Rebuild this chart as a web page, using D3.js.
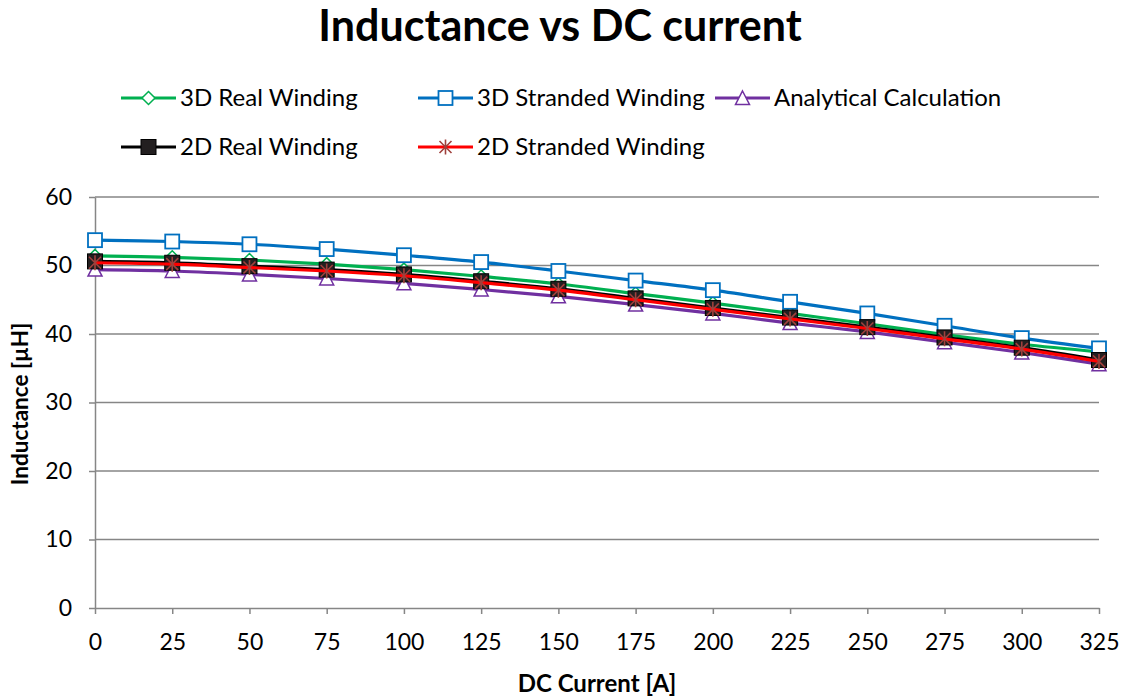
<!DOCTYPE html>
<html>
<head>
<meta charset="utf-8">
<script src="https://cdn.jsdelivr.net/npm/d3@7"></script>
<style>
  html, body { margin: 0; padding: 0; background: #fff; }
  svg { display: block; font-family: Lato, "Open Sans", sans-serif; }
</style>
</head>
<body>
<svg id="chart" width="1125" height="700"></svg>
<script>
// DC current steps [A]
const currents = [0, 25, 50, 75, 100, 125, 150, 175, 200, 225, 250, 275, 300, 325];

// Inductance [µH] for each model
const real3D      = [51.4, 51.2, 50.8, 50.2, 49.4, 48.4, 47.3, 45.9, 44.5, 43.0, 41.5, 39.9, 38.5, 37.4];
const stranded3D  = [53.7, 53.5, 53.1, 52.4, 51.5, 50.5, 49.2, 47.8, 46.4, 44.7, 43.0, 41.2, 39.4, 37.9];
const analytical  = [49.4, 49.2, 48.7, 48.1, 47.4, 46.5, 45.5, 44.3, 43.0, 41.6, 40.3, 38.8, 37.3, 35.6];
const real2D      = [50.6, 50.4, 49.9, 49.4, 48.7, 47.7, 46.6, 45.2, 43.8, 42.4, 41.0, 39.5, 38.0, 36.2];
const stranded2D  = [50.4, 50.2, 49.7, 49.2, 48.5, 47.5, 46.4, 45.0, 43.6, 42.2, 40.8, 39.3, 37.8, 36.0];

const yTicks = [0, 10, 20, 30, 40, 50, 60];

const seriesDefs = [
  { name: "3D Real Winding",        values: real3D,     color: "#00b050", marker: "diamond" },
  { name: "3D Stranded Winding",    values: stranded3D, color: "#0070c0", marker: "square" },
  { name: "Analytical Calculation", values: analytical, color: "#7030a0", marker: "triangle" },
  { name: "2D Real Winding",        values: real2D,     color: "#000000", marker: "filledSquare" },
  { name: "2D Stranded Winding",    values: stranded2D, color: "#ff0000", marker: "star" }
];

const svg = d3.select("#chart");
const plot = { left: 95, right: 1099, top: 197, bottom: 608 };

const x = d3.scaleLinear().domain([0, 325]).range([plot.left, plot.right]);
const y = d3.scaleLinear().domain([0, 60]).range([plot.bottom, plot.top]);

const gridColor = "#868686";

// Title
svg.append("text")
  .attr("x", 560).attr("y", 41)
  .attr("text-anchor", "middle")
  .style("font-weight", "bold").style("font-size", "43px")
  .text("Inductance vs DC current");

// Horizontal gridlines
svg.append("g")
  .selectAll("line")
  .data(yTicks.filter(d => d > 0))
  .join("line")
  .attr("x1", plot.left).attr("x2", plot.right)
  .attr("y1", d => y(d)).attr("y2", d => y(d))
  .attr("stroke", gridColor).attr("stroke-width", 1.5);

// Y axis
const yAxis = svg.append("g")
  .attr("transform", `translate(${plot.left},0)`)
  .call(d3.axisLeft(y).tickValues(yTicks).tickSize(6).tickPadding(17).tickSizeOuter(0));
yAxis.select(".domain").attr("stroke", gridColor).attr("stroke-width", 1.5);
yAxis.selectAll(".tick line").attr("stroke", gridColor).attr("stroke-width", 1.5);
yAxis.selectAll(".tick text")
  .style("font-family", "Lato, sans-serif").style("font-size", "23px").attr("fill", "#000");

// X axis
const xAxis = svg.append("g")
  .attr("transform", `translate(0,${plot.bottom})`)
  .call(d3.axisBottom(x).tickValues(currents).tickSize(6).tickPadding(20).tickSizeOuter(0));
xAxis.select(".domain").attr("stroke", gridColor).attr("stroke-width", 1.5);
xAxis.selectAll(".tick line").attr("stroke", gridColor).attr("stroke-width", 1.5);
xAxis.selectAll(".tick text")
  .style("font-family", "Lato, sans-serif").style("font-size", "23px").attr("fill", "#000");

// Axis titles
svg.append("text")
  .attr("transform", "translate(28,404) rotate(-90)")
  .attr("text-anchor", "middle")
  .style("font-weight", "bold").style("font-size", "22.5px")
  .text("Inductance [µH]");

svg.append("text")
  .attr("x", 597).attr("y", 692)
  .attr("text-anchor", "middle")
  .style("font-weight", "bold").style("font-size", "24px")
  .text("DC Current [A]");

// Marker drawing
function drawMarker(g, type, color) {
  switch (type) {
    case "diamond":
      g.append("path").attr("d", "M0,-6.5L6.5,0L0,6.5L-6.5,0Z")
        .attr("fill", "#fff").attr("stroke", color).attr("stroke-width", 1.5);
      break;
    case "square":
      g.append("rect").attr("x", -7).attr("y", -7).attr("width", 14).attr("height", 14)
        .attr("fill", "#fff").attr("stroke", color).attr("stroke-width", 1.8);
      break;
    case "triangle":
      g.append("path").attr("d", "M0,-7L7,6.5L-7,6.5Z")
        .attr("fill", "#fff").attr("stroke", color).attr("stroke-width", 1.5);
      break;
    case "filledSquare":
      g.append("rect").attr("x", -7.5).attr("y", -7.5).attr("width", 15).attr("height", 15)
        .attr("fill", "#231f20").attr("stroke", "#000").attr("stroke-width", 1);
      break;
    case "star":
      g.append("path")
        .attr("d", "M-6,-6L6,6M-6,6L6,-6M0,-7.5L0,7.5")
        .attr("fill", "none").attr("stroke", "#a0403c").attr("stroke-width", 1.6);
      break;
  }
}

const line = d3.line()
  .x((d, i) => x(currents[i]))
  .y(d => y(d))
  .curve(d3.curveCatmullRom.alpha(0.5));

// Series: line then markers, in legend order
seriesDefs.forEach(s => {
  const g = svg.append("g");
  g.append("path")
    .attr("d", line(s.values))
    .attr("fill", "none")
    .attr("stroke", s.color)
    .attr("stroke-width", 3.2)
    .attr("stroke-linejoin", "round");
  g.selectAll("g.m")
    .data(s.values)
    .join("g")
    .attr("class", "m")
    .attr("transform", (d, i) => `translate(${x(currents[i])},${y(d)})`)
    .each(function () { drawMarker(d3.select(this), s.marker, s.color); });
});

// Legend
const legendPos = [
  { lx: 121, ty: 98 }, { lx: 418, ty: 98 }, { lx: 715, ty: 98 },
  { lx: 121, ty: 147 }, { lx: 418, ty: 147 }
];
seriesDefs.forEach((s, i) => {
  const p = legendPos[i];
  const g = svg.append("g").attr("transform", `translate(${p.lx},${p.ty})`);
  g.append("line").attr("x1", 0).attr("x2", 55).attr("y1", 0).attr("y2", 0)
    .attr("stroke", s.color).attr("stroke-width", 3.2);
  drawMarker(g.append("g").attr("transform", "translate(27.5,0)"), s.marker, s.color);
  g.append("text").attr("x", 59).attr("y", 0).attr("dy", "0.35em")
    .style("font-size", "24px")
    .text(s.name);
});
</script>
</body>
</html>
